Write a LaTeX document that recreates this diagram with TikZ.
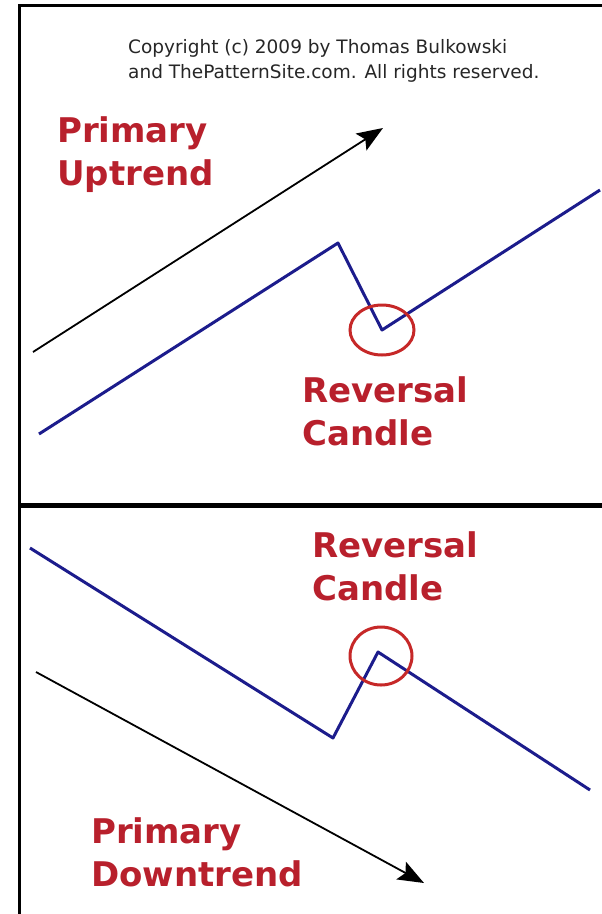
\documentclass[tikz,border=0pt]{standalone}
\usepackage{fontspec}
\usepackage{xcolor}
\usepackage{tikz}
\usetikzlibrary{arrows.meta}
\newfontfamily\labelfont{DejaVu Sans}
\definecolor{tagred}{HTML}{B8202C}
\definecolor{ringred}{HTML}{C62828}
\definecolor{priceblue}{HTML}{1C1C8C}

\begin{document}
\begin{tikzpicture}[x=1pt, y=-1pt,
      frame/.style={line width=3pt},
      price/.style={priceblue, line width=3pt, line join=round},
      trend/.style={line width=1.8pt, -{Stealth[length=26pt, width=20pt, inset=5pt]}},
      ring/.style={ringred, line width=3pt},
      tag/.style={text=tagred, font=\labelfont\bfseries\fontsize{34}{43}\selectfont, align=left, anchor=north west, inner sep=0pt},
      note/.style={text=black!85, font=\labelfont\fontsize{18.5}{25}\selectfont, align=left, anchor=north west, inner sep=0pt}]
    \useasboundingbox (0,0) rectangle (602,914);
    \draw[frame] (19,914) -- (19,5) -- (602,5);
    \draw[line width=5pt] (19,505) -- (602,505);
    \node[note] (copy) at (128,39) {Copyright (c) 2009 by Thomas Bulkowski\\and ThePatternSite.com. All rights reserved.};
    \node[tag] (uptrend) at (57,116) {Primary\\Uptrend};
    \node[tag] (revup) at (302,376) {Reversal\\Candle};
    \node[tag] (revdown) at (312,531) {Reversal\\Candle};
    \node[tag] (downtrend) at (91,817) {Primary\\Downtrend};
    \coordinate (u0) at (39,434);
    \coordinate (u1) at (338,243);
    \coordinate (u2) at (382,330);
    \coordinate (u3) at (600,190);
    \coordinate (d0) at (30,548);
    \coordinate (d1) at (333,738);
    \coordinate (d2) at (378,652);
    \coordinate (d3) at (590,790);
    \coordinate (ua) at (33,352);
    \coordinate (ub) at (383,128);
    \coordinate (da) at (36,672);
    \coordinate (db) at (424,883);
    \draw[trend] (ua) -- (ub);
    \draw[trend] (da) -- (db);
    \draw[price] (u0) -- (u1) -- (u2) -- (u3);
    \draw[price] (d0) -- (d1) -- (d2) -- (d3);
    \draw[ring] (u2) ellipse [x radius=32, y radius=25];
    \draw[ring] (381,656) ellipse [x radius=31, y radius=29];
  \end{tikzpicture}
\end{document}
